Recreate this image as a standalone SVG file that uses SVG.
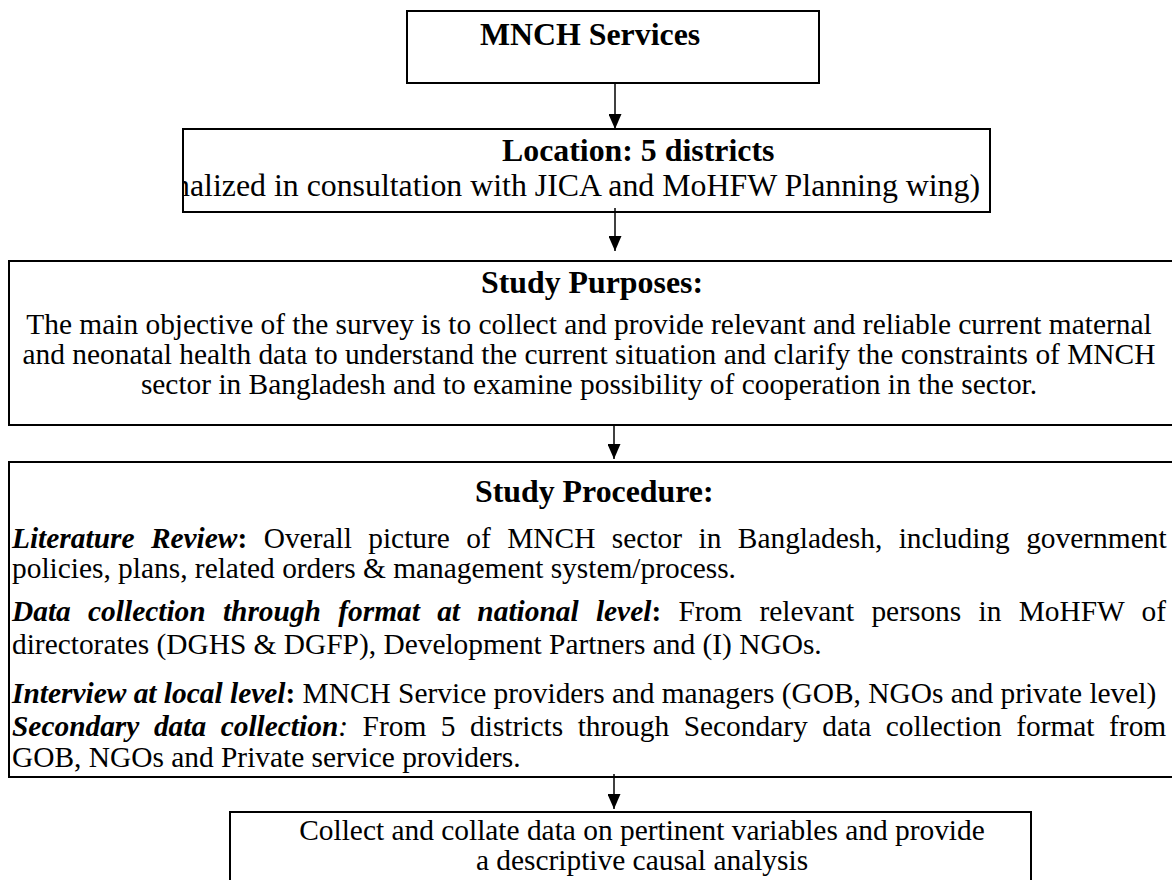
<svg xmlns="http://www.w3.org/2000/svg" width="1172" height="880" viewBox="0 0 1172 880">
<defs>
<marker id="ah" markerWidth="15" markerHeight="13" refX="15" refY="6.5" orient="auto" markerUnits="userSpaceOnUse"><path d="M0,0 L15,6.5 L0,13 z" fill="#000"/></marker>
<clipPath id="c2"><rect x="184" y="130" width="805" height="81"/></clipPath>
</defs>
<style>
.box{fill:#fff;stroke:#000;stroke-width:2}
.t{font-family:"Liberation Serif","Times New Roman",serif;fill:#000}
.h{font-size:31.85px;font-weight:bold}
.r{font-size:31.85px}
.b{font-size:29.4px}
.bi{font-weight:bold;font-style:italic}
.conn{stroke:#000;stroke-width:1.5;fill:none}
</style>
<rect x="0" y="0" width="1172" height="880" fill="#fff"/>
<g id="n1">
<rect class="box" x="407" y="11" width="412" height="72"/>
<text class="t h" x="480" y="45">MNCH Services</text>
</g>
<g id="n2">
<rect class="box" x="183" y="129" width="807" height="83"/>
<text class="t h" x="502" y="161">Location: 5 districts</text>
<g clip-path="url(#c2)"><text class="t r" x="174" y="196">nalized in consultation with JICA and MoHFW Planning wing)</text></g>
</g>
<g id="n3">
<rect class="box" x="9" y="261" width="1175" height="164"/>
<text class="t h" x="592" y="293" text-anchor="middle">Study Purposes:</text>
<text class="t b" x="589" y="334" text-anchor="middle">The main objective of the survey is to collect and provide relevant and reliable current maternal</text>
<text class="t b" x="589" y="364" text-anchor="middle">and neonatal health data to understand the current situation and clarify the constraints of MNCH</text>
<text class="t b" x="589" y="394" text-anchor="middle">sector in Bangladesh and to examine possibility of cooperation in the sector.</text>
</g>
<g id="n4">
<rect class="box" x="9" y="462" width="1175" height="315"/>
<text class="t h" x="475" y="502">Study Procedure:</text>
<text class="t b" x="12" y="548" word-spacing="9.1"><tspan class="bi">Literature Review</tspan><tspan font-weight="bold">:</tspan> Overall picture of MNCH sector in Bangladesh, including government</text>
<text class="t b" x="12" y="578">policies, plans, related orders &amp; management system/process.</text>
<text class="t b" x="12" y="621" word-spacing="9.95"><tspan class="bi">Data collection through format at national level</tspan><tspan font-weight="bold">:</tspan> From relevant persons in MoHFW of</text>
<text class="t b" x="12" y="654">directorates (DGHS &amp; DGFP), Development Partners and (I) NGOs.</text>
<text class="t b" x="12" y="703"><tspan class="bi">Interview at local level</tspan><tspan font-weight="bold">:</tspan> MNCH Service providers and managers (GOB, NGOs and private level)</text>
<text class="t b" x="12" y="736" word-spacing="7.2"><tspan class="bi">Secondary data collection</tspan><tspan font-style="italic">:</tspan> From 5 districts through Secondary data collection format from</text>
<text class="t b" x="12" y="767">GOB, NGOs and Private service providers.</text>
</g>
<g id="n5">
<rect class="box" x="230" y="812" width="801" height="100"/>
<text class="t b" x="642" y="840" text-anchor="middle">Collect and collate data on pertinent variables and provide</text>
<text class="t b" x="642" y="870" text-anchor="middle">a descriptive causal analysis</text>
</g>
<g id="connectors">
<line class="conn" x1="615" y1="83" x2="615" y2="129" marker-end="url(#ah)"/>
<line class="conn" x1="615" y1="208" x2="615" y2="251" marker-end="url(#ah)"/>
<line class="conn" x1="614" y1="425" x2="614" y2="459" marker-end="url(#ah)"/>
<line class="conn" x1="614" y1="774" x2="614" y2="809" marker-end="url(#ah)"/>
</g>
</svg>
